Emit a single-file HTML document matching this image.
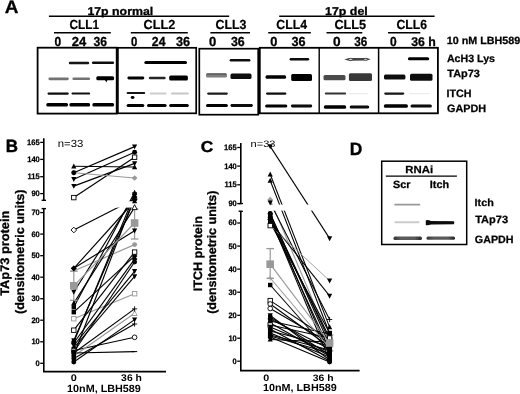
<!DOCTYPE html>
<html><head><meta charset="utf-8"><style>
html,body{margin:0;padding:0;background:#fff;width:520px;height:394px;overflow:hidden}
svg{display:block;font-family:"Liberation Sans", sans-serif;text-rendering:geometricPrecision;-webkit-font-smoothing:antialiased;will-change:transform}
</style></head><body>
<svg width="520" height="394" viewBox="0 0 520 394">
<defs><linearGradient id="gg" x1="0" x2="1" y1="0" y2="0"><stop offset="0" stop-color="#333"/><stop offset="0.25" stop-color="#5a5a5a"/><stop offset="0.75" stop-color="#5a5a5a"/><stop offset="1" stop-color="#222"/></linearGradient><filter id="bl" x="-10%" y="-100%" width="120%" height="300%"><feGaussianBlur stdDeviation="0.55"/></filter></defs>
<rect width="520" height="394" fill="#fff"/>
<text x="4.73" y="12.50" font-size="18.12" font-weight="bold" fill="#000" textLength="13.69" lengthAdjust="spacingAndGlyphs" stroke="#000" stroke-width="0.3" >A</text>
<text x="87.40" y="14.70" font-size="11.31" font-weight="bold" fill="#000" textLength="65.83" lengthAdjust="spacingAndGlyphs" stroke="#000" stroke-width="0.3" >17p normal</text>
<text x="325.09" y="14.70" font-size="11.31" font-weight="bold" fill="#000" textLength="42.68" lengthAdjust="spacingAndGlyphs" stroke="#000" stroke-width="0.3" >17p del</text>
<line x1="48.90" y1="16.20" x2="229.20" y2="16.20" stroke="#000" stroke-width="1.4" />
<line x1="279.20" y1="16.20" x2="434.60" y2="16.20" stroke="#000" stroke-width="1.4" />
<text x="69.53" y="29.00" font-size="13.14" font-weight="bold" fill="#000" textLength="29.57" lengthAdjust="spacingAndGlyphs" stroke="#000" stroke-width="0.2" >CLL1</text>
<text x="143.59" y="29.00" font-size="13.14" font-weight="bold" fill="#000" textLength="31.72" lengthAdjust="spacingAndGlyphs" stroke="#000" stroke-width="0.2" >CLL2</text>
<text x="215.51" y="29.00" font-size="13.14" font-weight="bold" fill="#000" textLength="30.93" lengthAdjust="spacingAndGlyphs" stroke="#000" stroke-width="0.2" >CLL3</text>
<text x="276.31" y="29.00" font-size="13.14" font-weight="bold" fill="#000" textLength="30.65" lengthAdjust="spacingAndGlyphs" stroke="#000" stroke-width="0.2" >CLL4</text>
<text x="334.39" y="29.00" font-size="13.14" font-weight="bold" fill="#000" textLength="31.83" lengthAdjust="spacingAndGlyphs" stroke="#000" stroke-width="0.2" >CLL5</text>
<text x="396.41" y="29.00" font-size="13.14" font-weight="bold" fill="#000" textLength="30.62" lengthAdjust="spacingAndGlyphs" stroke="#000" stroke-width="0.2" >CLL6</text>
<line x1="54.00" y1="32.80" x2="110.80" y2="32.80" stroke="#000" stroke-width="1.4" />
<line x1="130.80" y1="32.80" x2="187.80" y2="32.80" stroke="#000" stroke-width="1.4" />
<line x1="210.40" y1="32.80" x2="250.00" y2="32.80" stroke="#000" stroke-width="1.4" />
<line x1="268.20" y1="32.80" x2="310.80" y2="32.80" stroke="#000" stroke-width="1.4" />
<line x1="326.50" y1="32.80" x2="362.30" y2="32.80" stroke="#000" stroke-width="1.4" />
<line x1="388.00" y1="32.80" x2="420.30" y2="32.80" stroke="#000" stroke-width="1.4" />
<text x="54.62" y="45.80" font-size="13.14" font-weight="bold" fill="#000" textLength="6.67" lengthAdjust="spacingAndGlyphs" stroke="#000" stroke-width="0.3" >0</text>
<text x="71.75" y="45.80" font-size="13.14" font-weight="bold" fill="#000" textLength="14.45" lengthAdjust="spacingAndGlyphs" stroke="#000" stroke-width="0.3" >24</text>
<text x="93.40" y="45.80" font-size="13.14" font-weight="bold" fill="#000" textLength="13.56" lengthAdjust="spacingAndGlyphs" stroke="#000" stroke-width="0.3" >36</text>
<text x="131.05" y="45.80" font-size="13.14" font-weight="bold" fill="#000" textLength="6.32" lengthAdjust="spacingAndGlyphs" stroke="#000" stroke-width="0.3" >0</text>
<text x="151.87" y="45.80" font-size="13.14" font-weight="bold" fill="#000" textLength="13.62" lengthAdjust="spacingAndGlyphs" stroke="#000" stroke-width="0.3" >24</text>
<text x="175.88" y="45.80" font-size="13.14" font-weight="bold" fill="#000" textLength="14.09" lengthAdjust="spacingAndGlyphs" stroke="#000" stroke-width="0.3" >36</text>
<text x="209.08" y="45.80" font-size="13.14" font-weight="bold" fill="#000" textLength="7.26" lengthAdjust="spacingAndGlyphs" stroke="#000" stroke-width="0.3" >0</text>
<text x="230.89" y="45.80" font-size="13.14" font-weight="bold" fill="#000" textLength="13.77" lengthAdjust="spacingAndGlyphs" stroke="#000" stroke-width="0.3" >36</text>
<text x="270.29" y="45.80" font-size="13.14" font-weight="bold" fill="#000" textLength="7.14" lengthAdjust="spacingAndGlyphs" stroke="#000" stroke-width="0.3" >0</text>
<text x="291.48" y="45.80" font-size="13.14" font-weight="bold" fill="#000" textLength="14.09" lengthAdjust="spacingAndGlyphs" stroke="#000" stroke-width="0.3" >36</text>
<text x="332.95" y="45.80" font-size="13.14" font-weight="bold" fill="#000" textLength="7.61" lengthAdjust="spacingAndGlyphs" stroke="#000" stroke-width="0.3" >0</text>
<text x="354.31" y="45.80" font-size="13.14" font-weight="bold" fill="#000" textLength="13.03" lengthAdjust="spacingAndGlyphs" stroke="#000" stroke-width="0.3" >36</text>
<text x="390.02" y="45.80" font-size="13.14" font-weight="bold" fill="#000" textLength="6.67" lengthAdjust="spacingAndGlyphs" stroke="#000" stroke-width="0.3" >0</text>
<text x="411.19" y="45.80" font-size="12.69" font-weight="bold" fill="#000" textLength="24.66" lengthAdjust="spacingAndGlyphs" stroke="#000" stroke-width="0.3" >36 h</text>
<text x="446.70" y="43.70" font-size="10.43" font-weight="bold" fill="#000" textLength="73.48" lengthAdjust="spacingAndGlyphs" stroke="#000" stroke-width="0.25" >10 nM LBH589</text>
<text x="446.93" y="61.90" font-size="10.57" font-weight="bold" fill="#000" textLength="48.10" lengthAdjust="spacingAndGlyphs" stroke="#000" stroke-width="0.25" >AcH3 Lys</text>
<text x="447.39" y="77.00" font-size="10.57" font-weight="bold" fill="#000" textLength="32.51" lengthAdjust="spacingAndGlyphs" stroke="#000" stroke-width="0.25" >TAp73</text>
<text x="446.60" y="96.80" font-size="10.71" font-weight="bold" fill="#000" textLength="25.03" lengthAdjust="spacingAndGlyphs" stroke="#000" stroke-width="0.25" >ITCH</text>
<text x="446.97" y="111.90" font-size="10.71" font-weight="bold" fill="#000" textLength="39.15" lengthAdjust="spacingAndGlyphs" stroke="#000" stroke-width="0.25" >GAPDH</text>
<rect x="37.60" y="47.70" width="79.10" height="65.90" fill="none" stroke="#000" stroke-width="1.8" />
<rect x="117.90" y="47.80" width="78.30" height="65.50" fill="none" stroke="#000" stroke-width="1.7" />
<rect x="199.30" y="48.70" width="58.90" height="66.00" fill="none" stroke="#000" stroke-width="1.7" />
<rect x="259.80" y="47.80" width="178.10" height="65.50" fill="none" stroke="#000" stroke-width="1.8" />
<line x1="319.20" y1="47.80" x2="319.20" y2="113.30" stroke="#000" stroke-width="1.4" />
<line x1="378.60" y1="47.80" x2="378.60" y2="113.30" stroke="#000" stroke-width="1.5" />
<g filter="url(#bl)">
<rect x="68.80" y="61.80" width="20.40" height="2.40" rx="1.20" fill="rgb(20,20,20)"/>
<rect x="91.90" y="61.60" width="22.20" height="2.40" rx="1.20" fill="rgb(15,15,15)"/>
<rect x="48.40" y="77.40" width="20.40" height="2.80" rx="1.40" fill="rgb(114,114,114)"/>
<rect x="72.40" y="77.50" width="17.70" height="2.60" rx="1.30" fill="rgb(114,114,114)"/>
<rect x="96.30" y="76.30" width="17.80" height="4.00" rx="1.50" fill="rgb(0,0,0)"/>
<rect x="47.50" y="92.50" width="21.30" height="2.20" rx="1.10" fill="rgb(10,10,10)"/>
<rect x="71.50" y="92.60" width="18.60" height="2.00" rx="1.00" fill="rgb(15,15,15)"/>
<rect x="46.30" y="103.00" width="21.70" height="3.60" rx="1.50" fill="rgb(0,0,0)"/>
<rect x="69.40" y="103.10" width="20.70" height="3.40" rx="1.50" fill="rgb(5,5,5)"/>
<rect x="92.40" y="103.10" width="21.70" height="3.40" rx="1.50" fill="rgb(5,5,5)"/>
<rect x="144.30" y="60.90" width="42.70" height="3.00" rx="1.50" fill="rgb(5,5,5)"/>
<rect x="127.40" y="76.60" width="16.90" height="2.80" rx="1.40" fill="rgb(5,5,5)"/>
<rect x="148.80" y="76.80" width="16.90" height="2.40" rx="1.20" fill="rgb(38,38,38)"/>
<rect x="169.20" y="75.50" width="18.70" height="5.00" rx="1.50" fill="rgb(0,0,0)"/>
<rect x="126.60" y="92.10" width="18.60" height="2.00" rx="1.00" fill="rgb(20,20,20)"/>
<rect x="149.70" y="92.40" width="16.90" height="2.00" rx="1.00" fill="rgb(204,204,204)"/>
<rect x="171.00" y="92.40" width="17.80" height="2.00" rx="1.00" fill="rgb(198,198,198)"/>
<rect x="126.60" y="104.10" width="17.70" height="3.00" rx="1.50" fill="rgb(5,5,5)"/>
<rect x="147.00" y="104.10" width="19.60" height="3.00" rx="1.50" fill="rgb(5,5,5)"/>
<rect x="169.20" y="104.10" width="19.60" height="3.00" rx="1.50" fill="rgb(5,5,5)"/>
<rect x="229.70" y="59.00" width="20.70" height="2.40" rx="1.20" fill="rgb(15,15,15)"/>
<rect x="206.00" y="73.20" width="21.00" height="4.40" rx="1.50" fill="rgb(127,127,127)"/>
<rect x="206.50" y="73.40" width="20.00" height="1.20" rx="0.60" fill="rgb(76,76,76)"/>
<rect x="230.50" y="73.50" width="21.00" height="5.40" rx="1.50" fill="rgb(12,12,12)"/>
<rect x="207.10" y="92.50" width="20.80" height="2.20" rx="1.10" fill="rgb(30,30,30)"/>
<rect x="206.00" y="104.00" width="21.90" height="3.00" rx="1.50" fill="rgb(5,5,5)"/>
<rect x="230.50" y="104.10" width="22.30" height="2.80" rx="1.40" fill="rgb(7,7,7)"/>
<rect x="289.60" y="58.00" width="19.60" height="2.60" rx="1.30" fill="rgb(7,7,7)"/>
<rect x="265.50" y="75.30" width="20.60" height="3.40" rx="1.50" fill="rgb(0,0,0)"/>
<rect x="291.20" y="74.00" width="20.80" height="7.00" rx="1.50" fill="rgb(0,0,0)"/>
<rect x="266.00" y="92.50" width="20.40" height="2.20" rx="1.10" fill="rgb(12,12,12)"/>
<rect x="265.10" y="104.50" width="22.20" height="3.00" rx="1.50" fill="rgb(5,5,5)"/>
<rect x="290.90" y="104.60" width="21.30" height="2.80" rx="1.40" fill="rgb(12,12,12)"/>
<rect x="323.50" y="75.00" width="22.00" height="5.20" rx="1.50" fill="rgb(76,76,76)"/>
<rect x="348.90" y="73.30" width="23.10" height="7.60" rx="1.50" fill="rgb(56,56,56)"/>
<rect x="324.80" y="92.60" width="21.30" height="2.00" rx="1.00" fill="rgb(51,51,51)"/>
<rect x="349.00" y="92.90" width="19.00" height="1.40" rx="0.70" fill="rgb(234,234,234)"/>
<rect x="323.90" y="105.20" width="22.20" height="3.60" rx="1.50" fill="rgb(0,0,0)"/>
<rect x="349.70" y="105.40" width="19.50" height="3.20" rx="1.50" fill="rgb(7,7,7)"/>
<rect x="407.90" y="57.30" width="21.30" height="3.00" rx="1.50" fill="rgb(0,0,0)"/>
<rect x="384.00" y="74.60" width="21.40" height="4.80" rx="1.50" fill="rgb(15,15,15)"/>
<rect x="410.00" y="73.80" width="22.50" height="7.00" rx="1.50" fill="rgb(15,15,15)"/>
<rect x="384.20" y="92.50" width="20.10" height="2.20" rx="1.10" fill="rgb(20,20,20)"/>
<rect x="409.00" y="92.90" width="21.00" height="1.40" rx="0.70" fill="rgb(237,237,237)"/>
<rect x="383.90" y="104.30" width="24.00" height="3.40" rx="1.50" fill="rgb(5,5,5)"/>
<rect x="410.50" y="104.40" width="21.40" height="3.20" rx="1.50" fill="rgb(10,10,10)"/>
<rect x="394.20" y="203.75" width="26.20" height="1.70" rx="0.85" fill="rgb(153,153,153)"/>
<rect x="394.30" y="221.20" width="25.30" height="2.00" rx="1.00" fill="rgb(204,204,204)"/>
</g>
<g filter="url(#bl)"><path d="M425.8 220.4 Q427.5 219.6 431 220.9 L453.8 221.2 Q455 222.7 453.8 224.2 L431 224.5 Q427.5 225.8 425.8 225.0 Z" fill="#080808"/><rect x="393.5" y="236.4" width="28.4" height="3.5" rx="1.5" fill="url(#gg)"/><rect x="426.5" y="236.4" width="28.5" height="3.3" rx="1.5" fill="url(#gg)"/></g>
<g filter="url(#bl)"><path d="M344.3 59.4 L349 57.9 L367 58.0 L370.6 59.2 L367 60.6 L349 60.8 Z" fill="#444"/><ellipse cx="350.6" cy="59.3" rx="2.3" ry="1.0" fill="#eee" stroke="#111" stroke-width="0.6"/><ellipse cx="365.6" cy="59.2" rx="2.0" ry="0.95" fill="#eee" stroke="#111" stroke-width="0.6"/></g>
<path filter="url(#bl)" d="M104.8 79.5 L107.6 79.5 L106.3 82.6 Z" fill="#000"/>
<ellipse cx="132.6" cy="97.5" rx="1.9" ry="1.4" fill="#000"/>
<text x="349.77" y="154.80" font-size="17.97" font-weight="bold" fill="#000" textLength="12.56" lengthAdjust="spacingAndGlyphs" stroke="#000" stroke-width="0.35" >D</text>
<rect x="381.70" y="161.20" width="85.00" height="83.30" fill="none" stroke="#000" stroke-width="1.5" />
<text x="405.36" y="172.70" font-size="10.34" font-weight="bold" fill="#000" textLength="27.78" lengthAdjust="spacingAndGlyphs" stroke="#000" stroke-width="0.25" >RNAi</text>
<line x1="385.80" y1="176.10" x2="456.90" y2="176.10" stroke="#000" stroke-width="1.4" />
<text x="392.98" y="187.60" font-size="10.57" font-weight="bold" fill="#000" textLength="17.46" lengthAdjust="spacingAndGlyphs" stroke="#000" stroke-width="0.25" >Scr</text>
<text x="429.79" y="187.60" font-size="10.62" font-weight="bold" fill="#000" textLength="19.29" lengthAdjust="spacingAndGlyphs" stroke="#000" stroke-width="0.25" >Itch</text>
<text x="474.60" y="206.20" font-size="10.21" font-weight="bold" fill="#000" textLength="19.18" lengthAdjust="spacingAndGlyphs" stroke="#000" stroke-width="0.25" >Itch</text>
<text x="475.19" y="223.10" font-size="10.57" font-weight="bold" fill="#000" textLength="32.92" lengthAdjust="spacingAndGlyphs" stroke="#000" stroke-width="0.25" >TAp73</text>
<text x="474.87" y="243.20" font-size="10.57" font-weight="bold" fill="#000" textLength="38.74" lengthAdjust="spacingAndGlyphs" stroke="#000" stroke-width="0.25" >GAPDH</text>
<line x1="43.80" y1="138.20" x2="43.80" y2="200.30" stroke="#000" stroke-width="1.6" />
<line x1="41.60" y1="200.30" x2="46.00" y2="200.30" stroke="#000" stroke-width="1.4" />
<line x1="43.80" y1="208.60" x2="43.80" y2="371.60" stroke="#000" stroke-width="1.6" />
<line x1="41.60" y1="208.60" x2="46.00" y2="208.60" stroke="#000" stroke-width="1.4" />
<line x1="43.00" y1="371.60" x2="166.00" y2="371.60" stroke="#000" stroke-width="1.6" />
<line x1="40.20" y1="142.40" x2="43.80" y2="142.40" stroke="#000" stroke-width="1.3" />
<text x="27.11" y="144.80" font-size="7.86" font-weight="bold" fill="#000" textLength="12.60" lengthAdjust="spacingAndGlyphs" stroke="#000" stroke-width="0.25" >165</text>
<line x1="40.20" y1="159.40" x2="43.80" y2="159.40" stroke="#000" stroke-width="1.3" />
<text x="27.22" y="161.80" font-size="7.86" font-weight="bold" fill="#000" textLength="12.60" lengthAdjust="spacingAndGlyphs" stroke="#000" stroke-width="0.25" >140</text>
<line x1="40.20" y1="176.70" x2="43.80" y2="176.70" stroke="#000" stroke-width="1.3" />
<text x="27.53" y="179.10" font-size="7.97" font-weight="bold" fill="#000" textLength="12.19" lengthAdjust="spacingAndGlyphs" stroke="#000" stroke-width="0.25" >115</text>
<line x1="40.20" y1="193.60" x2="43.80" y2="193.60" stroke="#000" stroke-width="1.3" />
<text x="31.42" y="196.00" font-size="7.86" font-weight="bold" fill="#000" textLength="8.40" lengthAdjust="spacingAndGlyphs" stroke="#000" stroke-width="0.25" >90</text>
<line x1="40.20" y1="212.60" x2="43.80" y2="212.60" stroke="#000" stroke-width="1.3" />
<text x="31.42" y="215.00" font-size="7.86" font-weight="bold" fill="#000" textLength="8.40" lengthAdjust="spacingAndGlyphs" stroke="#000" stroke-width="0.25" >70</text>
<line x1="40.20" y1="234.10" x2="43.80" y2="234.10" stroke="#000" stroke-width="1.3" />
<text x="31.42" y="236.50" font-size="7.86" font-weight="bold" fill="#000" textLength="8.40" lengthAdjust="spacingAndGlyphs" stroke="#000" stroke-width="0.25" >60</text>
<line x1="40.20" y1="255.70" x2="43.80" y2="255.70" stroke="#000" stroke-width="1.3" />
<text x="31.42" y="258.10" font-size="7.86" font-weight="bold" fill="#000" textLength="8.40" lengthAdjust="spacingAndGlyphs" stroke="#000" stroke-width="0.25" >50</text>
<line x1="40.20" y1="277.20" x2="43.80" y2="277.20" stroke="#000" stroke-width="1.3" />
<text x="31.42" y="279.60" font-size="7.86" font-weight="bold" fill="#000" textLength="8.40" lengthAdjust="spacingAndGlyphs" stroke="#000" stroke-width="0.25" >40</text>
<line x1="40.20" y1="298.70" x2="43.80" y2="298.70" stroke="#000" stroke-width="1.3" />
<text x="31.42" y="301.10" font-size="7.86" font-weight="bold" fill="#000" textLength="8.40" lengthAdjust="spacingAndGlyphs" stroke="#000" stroke-width="0.25" >30</text>
<line x1="40.20" y1="320.20" x2="43.80" y2="320.20" stroke="#000" stroke-width="1.3" />
<text x="31.42" y="322.60" font-size="7.86" font-weight="bold" fill="#000" textLength="8.40" lengthAdjust="spacingAndGlyphs" stroke="#000" stroke-width="0.25" >20</text>
<line x1="40.20" y1="341.80" x2="43.80" y2="341.80" stroke="#000" stroke-width="1.3" />
<text x="31.42" y="344.20" font-size="7.86" font-weight="bold" fill="#000" textLength="8.40" lengthAdjust="spacingAndGlyphs" stroke="#000" stroke-width="0.25" >10</text>
<line x1="40.20" y1="363.30" x2="43.80" y2="363.30" stroke="#000" stroke-width="1.3" />
<text x="35.61" y="365.70" font-size="7.86" font-weight="bold" fill="#000" textLength="4.20" lengthAdjust="spacingAndGlyphs" stroke="#000" stroke-width="0.25" >0</text>
<line x1="73.80" y1="166.20" x2="134.60" y2="167.00" stroke="#000" stroke-width="1.15" />
<line x1="73.80" y1="172.70" x2="134.60" y2="146.60" stroke="#000" stroke-width="1.15" />
<line x1="73.80" y1="179.20" x2="134.60" y2="152.20" stroke="#000" stroke-width="1.15" />
<line x1="73.80" y1="186.10" x2="134.60" y2="163.40" stroke="#000" stroke-width="1.15" />
<line x1="73.80" y1="197.60" x2="134.60" y2="157.20" stroke="#000" stroke-width="1.15" />
<line x1="73.80" y1="172.70" x2="134.60" y2="178.00" stroke="#999" stroke-width="1.15" />
<line x1="73.80" y1="230.00" x2="134.60" y2="199.00" stroke="#000" stroke-width="1.15" />
<line x1="73.80" y1="268.30" x2="134.60" y2="201.00" stroke="#000" stroke-width="1.15" />
<line x1="73.80" y1="268.30" x2="134.60" y2="230.80" stroke="#000" stroke-width="1.15" />
<line x1="73.80" y1="271.00" x2="134.60" y2="244.60" stroke="#999" stroke-width="1.15" />
<line x1="73.80" y1="292.00" x2="134.60" y2="196.00" stroke="#000" stroke-width="1.15" />
<line x1="73.80" y1="303.10" x2="134.60" y2="207.40" stroke="#000" stroke-width="1.15" />
<line x1="73.80" y1="307.30" x2="134.60" y2="192.50" stroke="#000" stroke-width="1.15" />
<line x1="73.80" y1="312.20" x2="134.60" y2="256.10" stroke="#000" stroke-width="1.15" />
<line x1="73.80" y1="318.70" x2="134.60" y2="293.70" stroke="#999" stroke-width="1.15" />
<line x1="73.80" y1="330.20" x2="134.60" y2="252.10" stroke="#000" stroke-width="1.15" />
<line x1="73.80" y1="340.50" x2="134.60" y2="199.50" stroke="#000" stroke-width="1.15" />
<line x1="73.80" y1="343.00" x2="134.60" y2="259.10" stroke="#000" stroke-width="1.15" />
<line x1="73.80" y1="345.50" x2="134.60" y2="271.30" stroke="#000" stroke-width="1.15" />
<line x1="73.80" y1="348.00" x2="134.60" y2="276.40" stroke="#000" stroke-width="1.15" />
<line x1="73.80" y1="350.50" x2="134.60" y2="337.30" stroke="#000" stroke-width="1.15" />
<line x1="73.80" y1="353.00" x2="134.60" y2="308.90" stroke="#000" stroke-width="1.15" />
<line x1="73.80" y1="362.00" x2="134.60" y2="319.60" stroke="#000" stroke-width="1.15" />
<line x1="73.80" y1="358.50" x2="134.60" y2="324.00" stroke="#000" stroke-width="1.15" />
<line x1="73.80" y1="356.00" x2="134.60" y2="313.30" stroke="#999" stroke-width="1.15" />
<line x1="73.80" y1="353.00" x2="134.60" y2="351.60" stroke="#000" stroke-width="1.15" />
<line x1="73.80" y1="342.00" x2="134.60" y2="194.50" stroke="#000" stroke-width="1.15" />
<line x1="73.80" y1="355.00" x2="134.60" y2="197.00" stroke="#000" stroke-width="1.15" />
<line x1="73.80" y1="352.00" x2="134.60" y2="262.00" stroke="#000" stroke-width="1.15" />
<rect x="45.5" y="201.2" width="120" height="6.4" fill="#fff"/>
<line x1="73.80" y1="271.20" x2="73.80" y2="300.30" stroke="#999" stroke-width="1.2" />
<line x1="70.00" y1="271.20" x2="77.60" y2="271.20" stroke="#999" stroke-width="1.3" />
<line x1="70.00" y1="300.30" x2="77.60" y2="300.30" stroke="#999" stroke-width="1.3" />
<line x1="134.60" y1="209.00" x2="134.60" y2="239.00" stroke="#999" stroke-width="1.2" />
<line x1="130.80" y1="209.00" x2="138.40" y2="209.00" stroke="#999" stroke-width="1.3" />
<line x1="130.80" y1="239.00" x2="138.40" y2="239.00" stroke="#999" stroke-width="1.3" />
<line x1="73.80" y1="285.80" x2="134.60" y2="223.00" stroke="#999" stroke-width="1.2" />
<path d="M73.80 169.84 L76.66 172.70 L73.80 175.56 L70.94 172.70 Z" fill="#999"/>
<path d="M134.60 175.14 L137.46 178.00 L134.60 180.86 L131.74 178.00 Z" fill="#999"/>
<line x1="71.20" y1="271.00" x2="76.40" y2="271.00" stroke="#999" stroke-width="1.0" />
<circle cx="134.60" cy="244.60" r="2.47" fill="#999"/>
<rect x="71.59" y="316.49" width="4.42" height="4.42" fill="#fff" stroke="#999" stroke-width="0.9"/>
<rect x="132.39" y="291.49" width="4.42" height="4.42" fill="#fff" stroke="#999" stroke-width="0.9"/>
<path d="M73.80 353.14 L76.66 356.00 L73.80 358.86 L70.94 356.00 Z" fill="#999"/>
<path d="M132.00 315.51 L137.20 315.51 L134.60 310.57 Z" fill="#fff" stroke="#999" stroke-width="0.9"/>
<path d="M71.20 168.41 L76.40 168.41 L73.80 163.47 Z" fill="#000"/>
<path d="M132.00 169.21 L137.20 169.21 L134.60 164.27 Z" fill="#000"/>
<circle cx="73.80" cy="172.70" r="2.47" fill="#000"/>
<path d="M132.00 144.39 L137.20 144.39 L134.60 149.33 Z" fill="#000"/>
<path d="M71.20 176.99 L76.40 176.99 L73.80 181.93 Z" fill="#000"/>
<circle cx="134.60" cy="152.20" r="2.47" fill="#000"/>
<path d="M71.20 183.89 L76.40 183.89 L73.80 188.83 Z" fill="#000"/>
<path d="M132.00 161.19 L137.20 161.19 L134.60 166.13 Z" fill="#000"/>
<rect x="71.59" y="195.39" width="4.42" height="4.42" fill="#fff" stroke="#000" stroke-width="0.9"/>
<rect x="132.39" y="154.99" width="4.42" height="4.42" fill="#fff" stroke="#000" stroke-width="0.9"/>
<path d="M73.80 227.14 L76.66 230.00 L73.80 232.86 L70.94 230.00 Z" fill="#fff" stroke="#000" stroke-width="0.9"/>
<circle cx="134.60" cy="199.00" r="2.34" fill="#fff" stroke="#000" stroke-width="0.9"/>
<path d="M73.80 265.44 L76.66 268.30 L73.80 271.16 L70.94 268.30 Z" fill="#000"/>
<path d="M132.00 203.21 L137.20 203.21 L134.60 198.27 Z" fill="#000"/>
<path d="M73.80 265.44 L76.66 268.30 L73.80 271.16 L70.94 268.30 Z" fill="#000"/>
<path d="M132.00 228.59 L137.20 228.59 L134.60 233.53 Z" fill="#000"/>
<path d="M71.20 289.79 L76.40 289.79 L73.80 294.73 Z" fill="#000"/>
<path d="M132.00 193.79 L137.20 193.79 L134.60 198.73 Z" fill="#000"/>
<path d="M71.20 305.31 L76.40 305.31 L73.80 300.37 Z" fill="#000"/>
<path d="M132.00 209.61 L137.20 209.61 L134.60 204.67 Z" fill="#fff" stroke="#000" stroke-width="0.9"/>
<rect x="71.59" y="305.09" width="4.42" height="4.42" fill="#000"/>
<path d="M132.00 194.71 L137.20 194.71 L134.60 189.77 Z" fill="#000"/>
<rect x="71.59" y="309.99" width="4.42" height="4.42" fill="#000"/>
<path d="M134.60 253.24 L137.46 256.10 L134.60 258.96 L131.74 256.10 Z" fill="#000"/>
<rect x="71.59" y="327.99" width="4.42" height="4.42" fill="#fff" stroke="#000" stroke-width="0.9"/>
<rect x="132.39" y="249.89" width="4.42" height="4.42" fill="#fff" stroke="#000" stroke-width="0.9"/>
<path d="M71.20 338.29 L76.40 338.29 L73.80 343.23 Z" fill="#000"/>
<path d="M134.60 196.64 L137.46 199.50 L134.60 202.36 L131.74 199.50 Z" fill="#000"/>
<circle cx="73.80" cy="343.00" r="2.47" fill="#000"/>
<path d="M134.60 256.24 L137.46 259.10 L134.60 261.96 L131.74 259.10 Z" fill="#000"/>
<path d="M71.20 343.29 L76.40 343.29 L73.80 348.23 Z" fill="#000"/>
<path d="M132.00 269.09 L137.20 269.09 L134.60 274.03 Z" fill="#000"/>
<path d="M73.80 345.14 L76.66 348.00 L73.80 350.86 L70.94 348.00 Z" fill="#000"/>
<path d="M132.00 274.19 L137.20 274.19 L134.60 279.13 Z" fill="#000"/>
<circle cx="73.80" cy="350.50" r="2.34" fill="#fff" stroke="#000" stroke-width="0.9"/>
<circle cx="134.60" cy="337.30" r="2.34" fill="#fff" stroke="#000" stroke-width="0.9"/>
<circle cx="73.80" cy="353.00" r="2.47" fill="#000"/>
<line x1="132.00" y1="308.90" x2="137.20" y2="308.90" stroke="#000" stroke-width="0.9" />
<line x1="134.60" y1="306.30" x2="134.60" y2="311.50" stroke="#000" stroke-width="0.9" />
<circle cx="73.80" cy="362.00" r="2.47" fill="#000"/>
<path d="M132.00 317.39 L137.20 317.39 L134.60 322.33 Z" fill="#000"/>
<circle cx="73.80" cy="358.50" r="2.47" fill="#000"/>
<line x1="132.00" y1="324.00" x2="137.20" y2="324.00" stroke="#000" stroke-width="0.9" />
<line x1="134.60" y1="321.40" x2="134.60" y2="326.60" stroke="#000" stroke-width="0.9" />
<path d="M71.20 350.79 L76.40 350.79 L73.80 355.73 Z" fill="#000"/>
<line x1="132.00" y1="351.60" x2="137.20" y2="351.60" stroke="#000" stroke-width="1.0" />
<circle cx="73.80" cy="342.00" r="2.47" fill="#000"/>
<path d="M132.00 192.29 L137.20 192.29 L134.60 197.23 Z" fill="#000"/>
<rect x="71.59" y="352.79" width="4.42" height="4.42" fill="#000"/>
<path d="M134.60 194.14 L137.46 197.00 L134.60 199.86 L131.74 197.00 Z" fill="#000"/>
<circle cx="73.80" cy="352.00" r="2.47" fill="#000"/>
<circle cx="134.60" cy="262.00" r="2.47" fill="#000"/>
<rect x="70.00" y="282.00" width="7.6" height="7.6" fill="#999"/>
<rect x="130.80" y="219.20" width="7.6" height="7.6" fill="#999"/>
<line x1="240.80" y1="142.90" x2="240.80" y2="203.60" stroke="#000" stroke-width="1.6" />
<line x1="238.60" y1="203.60" x2="243.00" y2="203.60" stroke="#000" stroke-width="1.4" />
<line x1="240.80" y1="211.20" x2="240.80" y2="370.60" stroke="#000" stroke-width="1.6" />
<line x1="238.60" y1="211.20" x2="243.00" y2="211.20" stroke="#000" stroke-width="1.4" />
<line x1="240.00" y1="370.60" x2="359.60" y2="370.60" stroke="#000" stroke-width="1.6" />
<line x1="237.20" y1="147.50" x2="240.80" y2="147.50" stroke="#000" stroke-width="1.3" />
<text x="224.11" y="149.90" font-size="7.86" font-weight="bold" fill="#000" textLength="12.60" lengthAdjust="spacingAndGlyphs" stroke="#000" stroke-width="0.25" >165</text>
<line x1="237.20" y1="166.10" x2="240.80" y2="166.10" stroke="#000" stroke-width="1.3" />
<text x="224.22" y="168.50" font-size="7.86" font-weight="bold" fill="#000" textLength="12.60" lengthAdjust="spacingAndGlyphs" stroke="#000" stroke-width="0.25" >140</text>
<line x1="237.20" y1="184.80" x2="240.80" y2="184.80" stroke="#000" stroke-width="1.3" />
<text x="224.53" y="187.20" font-size="7.97" font-weight="bold" fill="#000" textLength="12.19" lengthAdjust="spacingAndGlyphs" stroke="#000" stroke-width="0.25" >115</text>
<line x1="237.20" y1="203.60" x2="240.80" y2="203.60" stroke="#000" stroke-width="1.3" />
<text x="228.42" y="206.00" font-size="7.86" font-weight="bold" fill="#000" textLength="8.40" lengthAdjust="spacingAndGlyphs" stroke="#000" stroke-width="0.25" >90</text>
<line x1="237.20" y1="223.00" x2="240.80" y2="223.00" stroke="#000" stroke-width="1.3" />
<text x="228.42" y="225.40" font-size="7.86" font-weight="bold" fill="#000" textLength="8.40" lengthAdjust="spacingAndGlyphs" stroke="#000" stroke-width="0.25" >60</text>
<line x1="237.20" y1="246.10" x2="240.80" y2="246.10" stroke="#000" stroke-width="1.3" />
<text x="228.42" y="248.50" font-size="7.86" font-weight="bold" fill="#000" textLength="8.40" lengthAdjust="spacingAndGlyphs" stroke="#000" stroke-width="0.25" >50</text>
<line x1="237.20" y1="269.10" x2="240.80" y2="269.10" stroke="#000" stroke-width="1.3" />
<text x="228.42" y="271.50" font-size="7.86" font-weight="bold" fill="#000" textLength="8.40" lengthAdjust="spacingAndGlyphs" stroke="#000" stroke-width="0.25" >40</text>
<line x1="237.20" y1="292.20" x2="240.80" y2="292.20" stroke="#000" stroke-width="1.3" />
<text x="228.42" y="294.60" font-size="7.86" font-weight="bold" fill="#000" textLength="8.40" lengthAdjust="spacingAndGlyphs" stroke="#000" stroke-width="0.25" >30</text>
<line x1="237.20" y1="315.30" x2="240.80" y2="315.30" stroke="#000" stroke-width="1.3" />
<text x="228.42" y="317.70" font-size="7.86" font-weight="bold" fill="#000" textLength="8.40" lengthAdjust="spacingAndGlyphs" stroke="#000" stroke-width="0.25" >20</text>
<line x1="237.20" y1="338.20" x2="240.80" y2="338.20" stroke="#000" stroke-width="1.3" />
<text x="228.42" y="340.60" font-size="7.86" font-weight="bold" fill="#000" textLength="8.40" lengthAdjust="spacingAndGlyphs" stroke="#000" stroke-width="0.25" >10</text>
<line x1="237.20" y1="361.20" x2="240.80" y2="361.20" stroke="#000" stroke-width="1.3" />
<text x="232.61" y="363.60" font-size="7.86" font-weight="bold" fill="#000" textLength="4.20" lengthAdjust="spacingAndGlyphs" stroke="#000" stroke-width="0.25" >0</text>
<line x1="270.20" y1="146.40" x2="329.60" y2="238.40" stroke="#000" stroke-width="1.05" />
<line x1="270.20" y1="174.30" x2="329.60" y2="327.10" stroke="#000" stroke-width="1.05" />
<line x1="270.20" y1="180.50" x2="329.60" y2="333.50" stroke="#000" stroke-width="1.05" />
<line x1="270.20" y1="199.70" x2="329.60" y2="340.00" stroke="#999" stroke-width="1.05" />
<line x1="270.20" y1="202.70" x2="329.60" y2="319.50" stroke="#000" stroke-width="1.05" />
<line x1="270.20" y1="213.50" x2="329.60" y2="345.00" stroke="#000" stroke-width="1.05" />
<line x1="270.20" y1="215.50" x2="329.60" y2="355.00" stroke="#000" stroke-width="1.05" />
<line x1="270.20" y1="217.50" x2="329.60" y2="338.00" stroke="#000" stroke-width="1.05" />
<line x1="270.20" y1="219.50" x2="329.60" y2="350.00" stroke="#000" stroke-width="1.05" />
<line x1="270.20" y1="221.50" x2="329.60" y2="295.90" stroke="#000" stroke-width="1.05" />
<line x1="270.20" y1="222.50" x2="329.60" y2="333.00" stroke="#000" stroke-width="1.05" />
<line x1="270.20" y1="225.60" x2="329.60" y2="280.70" stroke="#999" stroke-width="0.9" />
<line x1="270.20" y1="214.00" x2="329.60" y2="341.00" stroke="#000" stroke-width="1.05" />
<line x1="270.20" y1="218.00" x2="329.60" y2="360.00" stroke="#000" stroke-width="1.05" />
<line x1="270.20" y1="285.00" x2="329.60" y2="352.00" stroke="#000" stroke-width="1.05" />
<line x1="270.20" y1="300.60" x2="329.60" y2="340.00" stroke="#000" stroke-width="1.05" />
<line x1="270.20" y1="304.00" x2="329.60" y2="347.00" stroke="#000" stroke-width="1.05" />
<line x1="270.20" y1="308.50" x2="329.60" y2="343.00" stroke="#000" stroke-width="1.05" />
<line x1="270.20" y1="315.40" x2="329.60" y2="360.00" stroke="#000" stroke-width="1.05" />
<line x1="270.20" y1="317.00" x2="329.60" y2="355.00" stroke="#000" stroke-width="1.05" />
<line x1="270.20" y1="319.00" x2="329.60" y2="349.00" stroke="#000" stroke-width="1.05" />
<line x1="270.20" y1="321.00" x2="329.60" y2="334.00" stroke="#000" stroke-width="1.05" />
<line x1="270.20" y1="323.00" x2="329.60" y2="356.00" stroke="#000" stroke-width="1.05" />
<line x1="270.20" y1="325.00" x2="329.60" y2="338.00" stroke="#000" stroke-width="1.05" />
<line x1="270.20" y1="327.00" x2="329.60" y2="352.00" stroke="#000" stroke-width="1.05" />
<line x1="270.20" y1="329.00" x2="329.60" y2="361.00" stroke="#000" stroke-width="1.05" />
<line x1="270.20" y1="331.00" x2="329.60" y2="346.00" stroke="#000" stroke-width="1.05" />
<line x1="270.20" y1="333.00" x2="329.60" y2="357.00" stroke="#000" stroke-width="1.05" />
<line x1="270.20" y1="335.00" x2="329.60" y2="350.00" stroke="#000" stroke-width="1.05" />
<line x1="270.20" y1="337.00" x2="329.60" y2="362.00" stroke="#000" stroke-width="1.05" />
<line x1="270.20" y1="339.40" x2="329.60" y2="342.00" stroke="#000" stroke-width="1.05" />
<line x1="270.20" y1="278.00" x2="329.60" y2="348.00" stroke="#999" stroke-width="1.05" />
<line x1="270.20" y1="336.00" x2="329.60" y2="353.00" stroke="#000" stroke-width="1.05" />
<rect x="242.3" y="204.6" width="100" height="6.0" fill="#fff"/>
<line x1="270.20" y1="248.60" x2="270.20" y2="278.40" stroke="#999" stroke-width="1.2" />
<line x1="266.40" y1="248.60" x2="274.00" y2="248.60" stroke="#999" stroke-width="1.3" />
<line x1="266.40" y1="278.40" x2="274.00" y2="278.40" stroke="#999" stroke-width="1.3" />
<line x1="329.60" y1="335.00" x2="329.60" y2="351.00" stroke="#999" stroke-width="1.2" />
<line x1="325.80" y1="335.00" x2="333.40" y2="335.00" stroke="#999" stroke-width="1.3" />
<line x1="325.80" y1="351.00" x2="333.40" y2="351.00" stroke="#999" stroke-width="1.3" />
<line x1="270.20" y1="264.20" x2="329.60" y2="343.00" stroke="#999" stroke-width="1.2" />
<path d="M270.20 196.84 L273.06 199.70 L270.20 202.56 L267.34 199.70 Z" fill="#999"/>
<path d="M329.60 337.14 L332.46 340.00 L329.60 342.86 L326.74 340.00 Z" fill="#999"/>
<line x1="267.60" y1="278.00" x2="272.80" y2="278.00" stroke="#999" stroke-width="0.9" />
<line x1="270.20" y1="275.40" x2="270.20" y2="280.60" stroke="#999" stroke-width="0.9" />
<rect x="327.39" y="345.79" width="4.42" height="4.42" fill="#999"/>
<path d="M267.60 144.19 L272.80 144.19 L270.20 149.13 Z" fill="#000"/>
<path d="M327.00 236.19 L332.20 236.19 L329.60 241.13 Z" fill="#000"/>
<path d="M267.60 176.51 L272.80 176.51 L270.20 171.57 Z" fill="#000"/>
<path d="M327.00 329.31 L332.20 329.31 L329.60 324.37 Z" fill="#000"/>
<path d="M267.60 182.71 L272.80 182.71 L270.20 177.77 Z" fill="#000"/>
<rect x="327.39" y="331.29" width="4.42" height="4.42" fill="#000"/>
<path d="M267.60 200.49 L272.80 200.49 L270.20 205.43 Z" fill="#000"/>
<line x1="327.00" y1="319.50" x2="332.20" y2="319.50" stroke="#000" stroke-width="0.9" />
<line x1="329.60" y1="316.90" x2="329.60" y2="322.10" stroke="#000" stroke-width="0.9" />
<circle cx="270.20" cy="213.50" r="2.47" fill="#000"/>
<circle cx="329.60" cy="345.00" r="2.47" fill="#000"/>
<rect x="267.99" y="213.29" width="4.42" height="4.42" fill="#000"/>
<rect x="327.39" y="352.79" width="4.42" height="4.42" fill="#000"/>
<circle cx="270.20" cy="217.50" r="2.47" fill="#000"/>
<circle cx="329.60" cy="338.00" r="2.47" fill="#000"/>
<path d="M270.20 216.64 L273.06 219.50 L270.20 222.36 L267.34 219.50 Z" fill="#000"/>
<path d="M329.60 347.14 L332.46 350.00 L329.60 352.86 L326.74 350.00 Z" fill="#000"/>
<path d="M267.60 219.29 L272.80 219.29 L270.20 224.23 Z" fill="#000"/>
<path d="M327.00 293.69 L332.20 293.69 L329.60 298.63 Z" fill="#000"/>
<rect x="267.99" y="220.29" width="4.42" height="4.42" fill="#000"/>
<rect x="327.39" y="330.79" width="4.42" height="4.42" fill="#000"/>
<rect x="267.99" y="223.39" width="4.42" height="4.42" fill="#fff" stroke="#000" stroke-width="0.9"/>
<path d="M327.00 278.49 L332.20 278.49 L329.60 283.43 Z" fill="#000"/>
<circle cx="270.20" cy="214.00" r="2.47" fill="#000"/>
<circle cx="329.60" cy="341.00" r="2.47" fill="#000"/>
<rect x="267.99" y="215.79" width="4.42" height="4.42" fill="#000"/>
<rect x="327.39" y="357.79" width="4.42" height="4.42" fill="#000"/>
<rect x="267.99" y="282.79" width="4.42" height="4.42" fill="#000"/>
<rect x="327.39" y="349.79" width="4.42" height="4.42" fill="#000"/>
<rect x="267.99" y="298.39" width="4.42" height="4.42" fill="#fff" stroke="#000" stroke-width="0.9"/>
<rect x="327.39" y="337.79" width="4.42" height="4.42" fill="#fff" stroke="#000" stroke-width="0.9"/>
<circle cx="270.20" cy="304.00" r="2.34" fill="#fff" stroke="#000" stroke-width="0.9"/>
<circle cx="329.60" cy="347.00" r="2.34" fill="#fff" stroke="#000" stroke-width="0.9"/>
<circle cx="270.20" cy="308.50" r="2.34" fill="#fff" stroke="#000" stroke-width="0.9"/>
<circle cx="329.60" cy="343.00" r="2.34" fill="#fff" stroke="#000" stroke-width="0.9"/>
<path d="M267.60 313.19 L272.80 313.19 L270.20 318.13 Z" fill="#000"/>
<path d="M327.00 357.79 L332.20 357.79 L329.60 362.73 Z" fill="#000"/>
<rect x="267.99" y="314.79" width="4.42" height="4.42" fill="#000"/>
<rect x="327.39" y="352.79" width="4.42" height="4.42" fill="#000"/>
<circle cx="270.20" cy="319.00" r="2.47" fill="#000"/>
<circle cx="329.60" cy="349.00" r="2.47" fill="#000"/>
<path d="M267.60 318.79 L272.80 318.79 L270.20 323.73 Z" fill="#000"/>
<path d="M327.00 331.79 L332.20 331.79 L329.60 336.73 Z" fill="#000"/>
<rect x="267.99" y="320.79" width="4.42" height="4.42" fill="#000"/>
<rect x="327.39" y="353.79" width="4.42" height="4.42" fill="#000"/>
<rect x="267.99" y="322.79" width="4.42" height="4.42" fill="#fff" stroke="#000" stroke-width="0.9"/>
<rect x="327.39" y="335.79" width="4.42" height="4.42" fill="#fff" stroke="#000" stroke-width="0.9"/>
<path d="M267.60 324.79 L272.80 324.79 L270.20 329.73 Z" fill="#000"/>
<path d="M327.00 349.79 L332.20 349.79 L329.60 354.73 Z" fill="#000"/>
<circle cx="270.20" cy="329.00" r="2.47" fill="#000"/>
<circle cx="329.60" cy="361.00" r="2.47" fill="#000"/>
<rect x="267.99" y="328.79" width="4.42" height="4.42" fill="#000"/>
<rect x="327.39" y="343.79" width="4.42" height="4.42" fill="#000"/>
<path d="M267.60 335.21 L272.80 335.21 L270.20 330.27 Z" fill="#000"/>
<path d="M327.00 359.21 L332.20 359.21 L329.60 354.27 Z" fill="#000"/>
<path d="M267.60 332.79 L272.80 332.79 L270.20 337.73 Z" fill="#000"/>
<path d="M327.00 347.79 L332.20 347.79 L329.60 352.73 Z" fill="#000"/>
<circle cx="270.20" cy="337.00" r="2.47" fill="#000"/>
<circle cx="329.60" cy="362.00" r="2.47" fill="#000"/>
<path d="M267.60 341.61 L272.80 341.61 L270.20 336.67 Z" fill="#000"/>
<path d="M327.00 344.21 L332.20 344.21 L329.60 339.27 Z" fill="#000"/>
<rect x="267.99" y="333.79" width="4.42" height="4.42" fill="#000"/>
<rect x="327.39" y="350.79" width="4.42" height="4.42" fill="#000"/>
<rect x="266.40" y="260.40" width="7.6" height="7.6" fill="#999"/>
<rect x="325.80" y="339.20" width="7.6" height="7.6" fill="#999"/>
<text x="5.80" y="151.80" font-size="17.68" font-weight="bold" fill="#000" textLength="12.19" lengthAdjust="spacingAndGlyphs" stroke="#000" stroke-width="0.45" >B</text>
<text x="57.76" y="147.30" font-size="10.43" font-weight="normal" fill="#000" textLength="25.47" lengthAdjust="spacingAndGlyphs" >n=33</text>
<text x="70.76" y="380.90" font-size="9.57" font-weight="bold" fill="#000" textLength="6.09" lengthAdjust="spacingAndGlyphs" >0</text>
<text x="121.14" y="380.90" font-size="9.66" font-weight="bold" fill="#000" textLength="20.79" lengthAdjust="spacingAndGlyphs" >36 h</text>
<text x="67.10" y="391.90" font-size="10.43" font-weight="bold" fill="#000" textLength="73.79" lengthAdjust="spacingAndGlyphs" >10nM, LBH589</text>
<text transform="translate(8.70,295.70) rotate(-90)" x="-0.13" y="0" font-size="12.41" font-weight="bold" fill="#000" stroke="#000" stroke-width="0.3" textLength="85.18" lengthAdjust="spacingAndGlyphs">TAp73 protein</text>
<text transform="translate(24.30,313.40) rotate(-90)" x="-0.63" y="0" font-size="12.41" font-weight="bold" fill="#000" stroke="#000" stroke-width="0.3" textLength="124.56" lengthAdjust="spacingAndGlyphs">(densitometric units)</text>
<text x="200.70" y="151.50" font-size="15.86" font-weight="bold" fill="#000" textLength="12.57" lengthAdjust="spacingAndGlyphs" stroke="#000" stroke-width="0.4" >C</text>
<text x="250.58" y="147.20" font-size="9.43" font-weight="normal" fill="#000" textLength="24.84" lengthAdjust="spacingAndGlyphs" >n=33</text>
<text x="263.27" y="380.70" font-size="9.29" font-weight="bold" fill="#000" textLength="5.97" lengthAdjust="spacingAndGlyphs" >0</text>
<text x="312.74" y="380.70" font-size="9.38" font-weight="bold" fill="#000" textLength="20.79" lengthAdjust="spacingAndGlyphs" >36 h</text>
<text x="263.00" y="391.10" font-size="10.29" font-weight="bold" fill="#000" textLength="73.68" lengthAdjust="spacingAndGlyphs" >10nM, LBH589</text>
<text transform="translate(201.70,290.40) rotate(-90)" x="-0.81" y="0" font-size="12.28" font-weight="bold" fill="#000" stroke="#000" stroke-width="0.3" textLength="75.16" lengthAdjust="spacingAndGlyphs">ITCH protein</text>
<text transform="translate(216.30,313.20) rotate(-90)" x="-0.62" y="0" font-size="12.28" font-weight="bold" fill="#000" stroke="#000" stroke-width="0.3" textLength="123.25" lengthAdjust="spacingAndGlyphs">(densitometric units)</text>
</svg>
</body></html>
